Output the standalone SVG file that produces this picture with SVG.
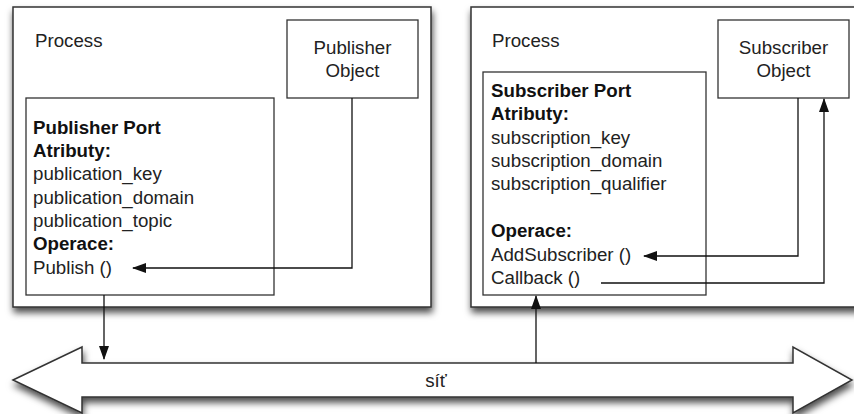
<svg xmlns="http://www.w3.org/2000/svg" width="854" height="414" viewBox="0 0 854 414">
  <style>
    text { font-family: "Liberation Sans", Arial, sans-serif; font-size: 18.7px; fill: #222; }
    .b { font-weight: bold; fill: #111; }
    .c { text-anchor: middle; }
    .proc { fill: #fff; stroke: #333; stroke-width: 1.5; filter: url(#shadow); }
    .box { fill: #fff; stroke: #333; stroke-width: 1.3; }
    .wire { fill: none; stroke: #111; stroke-width: 1.3; marker-end: url(#head); }
  </style>
  <defs>
    <filter id="shadow" x="-10%" y="-10%" width="120%" height="130%">
      <feDropShadow dx="1" dy="5" stdDeviation="3.5" flood-color="#000" flood-opacity="0.7"/>
    </filter>
    <marker id="head" markerUnits="userSpaceOnUse" markerWidth="14" markerHeight="10" refX="13" refY="5" orient="auto">
      <path d="M0,0 L14,5 L0,10 z" fill="#111"/>
    </marker>
  </defs>

  <!-- publisher process -->
  <g id="publisher-process">
    <rect class="proc" x="13" y="7" width="418" height="300"/>
    <text x="35" y="47">Process</text>
  </g>
  <g id="publisher-object">
    <rect class="box" x="287" y="20" width="131" height="78"/>
    <text class="c" x="352.5" y="54">Publisher</text>
    <text class="c" x="352.5" y="77">Object</text>
  </g>
  <g id="publisher-port">
    <rect class="box" x="26" y="98" width="248" height="197"/>
    <text class="b" x="33" y="134">Publisher Port</text>
    <text class="b" x="33" y="157">Atributy:</text>
    <text x="33" y="180">publication_key</text>
    <text x="33" y="204">publication_domain</text>
    <text x="33" y="227">publication_topic</text>
    <text class="b" x="33" y="250">Operace:</text>
    <text x="33" y="274">Publish ()</text>
  </g>

  <!-- subscriber process -->
  <g id="subscriber-process">
    <rect class="proc" x="471" y="7" width="400" height="300"/>
    <text x="492" y="47">Process</text>
  </g>
  <g id="subscriber-object">
    <rect class="box" x="718" y="20" width="131" height="78"/>
    <text class="c" x="783.5" y="54">Subscriber</text>
    <text class="c" x="783.5" y="77">Object</text>
  </g>
  <g id="subscriber-port">
    <rect class="box" x="483" y="72" width="223" height="223"/>
    <text class="b" x="491" y="97">Subscriber Port</text>
    <text class="b" x="491" y="120">Atributy:</text>
    <text x="491" y="144">subscription_key</text>
    <text x="491" y="167">subscription_domain</text>
    <text x="491" y="190">subscription_qualifier</text>
    <text class="b" x="491" y="237">Operace:</text>
    <text x="491" y="261">AddSubscriber ()</text>
    <text x="491" y="284">Callback ()</text>
  </g>

  <!-- network bus -->
  <g id="network">
    <path class="proc" d="M13,380 L82,347 L82,363 L793,363 L793,347 L852,380 L793,413 L793,397 L82,397 L82,413 Z"/>
    <text class="c" x="436" y="387">síť</text>
  </g>

  <!-- connectors -->
  <g id="connectors">
    <path class="wire" d="M352,98 V268 H133"/>
    <path class="wire" d="M104,295 V359"/>
    <path class="wire" d="M536,363 V296"/>
    <path class="wire" d="M798,98 V256 H644"/>
    <path class="wire" d="M601,283 H824 V99"/>
  </g>
</svg>
